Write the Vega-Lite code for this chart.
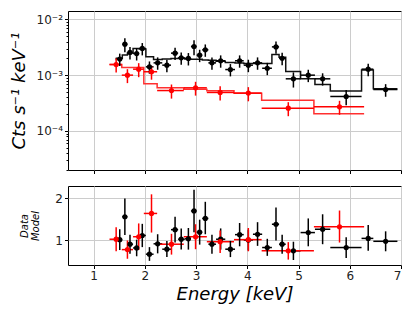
{
  "$schema": "https://vega.github.io/schema/vega-lite/v6.json",
  "padding": {"left": 9, "top": 10, "right": 5, "bottom": 5},
  "background": "white",
  "datasets": {
    "pts": [
      {"g": "b", "e": 1.51, "e0": 1.43, "e1": 1.56, "y": 0.00194, "ylo": 0.00146, "yhi": 0.00243, "r": 1.01, "rlo": 0.76, "rhi": 1.26},
      {"g": "b", "e": 1.61, "e0": 1.56, "e1": 1.66, "y": 0.00359, "ylo": 0.00258, "yhi": 0.0046, "r": 1.56, "rlo": 1.12, "rhi": 2.0},
      {"g": "b", "e": 1.71, "e0": 1.66, "e1": 1.77, "y": 0.00255, "ylo": 0.00191, "yhi": 0.00319, "r": 0.9, "rlo": 0.67, "rhi": 1.13},
      {"g": "b", "e": 1.84, "e0": 1.77, "e1": 1.89, "y": 0.00244, "ylo": 0.00183, "yhi": 0.00305, "r": 0.81, "rlo": 0.61, "rhi": 1.01},
      {"g": "b", "e": 1.95, "e0": 1.89, "e1": 2.02, "y": 0.00301, "ylo": 0.00226, "yhi": 0.00376, "r": 1.11, "rlo": 0.83, "rhi": 1.39},
      {"g": "b", "e": 2.09, "e0": 2.02, "e1": 2.17, "y": 0.00141, "ylo": 0.00106, "yhi": 0.00176, "r": 0.66, "rlo": 0.5, "rhi": 0.83},
      {"g": "b", "e": 2.25, "e0": 2.17, "e1": 2.34, "y": 0.00166, "ylo": 0.00125, "yhi": 0.00208, "r": 0.91, "rlo": 0.68, "rhi": 1.14},
      {"g": "b", "e": 2.43, "e0": 2.34, "e1": 2.51, "y": 0.00151, "ylo": 0.00113, "yhi": 0.00189, "r": 0.78, "rlo": 0.59, "rhi": 0.98},
      {"g": "b", "e": 2.59, "e0": 2.51, "e1": 2.65, "y": 0.00248, "ylo": 0.00186, "yhi": 0.0031, "r": 1.25, "rlo": 0.94, "rhi": 1.56},
      {"g": "b", "e": 2.71, "e0": 2.65, "e1": 2.78, "y": 0.00204, "ylo": 0.00153, "yhi": 0.00255, "r": 1.02, "rlo": 0.77, "rhi": 1.28},
      {"g": "b", "e": 2.85, "e0": 2.78, "e1": 2.9, "y": 0.00199, "ylo": 0.00149, "yhi": 0.00249, "r": 1.03, "rlo": 0.77, "rhi": 1.29},
      {"g": "b", "e": 2.96, "e0": 2.9, "e1": 3.01, "y": 0.00326, "ylo": 0.00228, "yhi": 0.00424, "r": 1.7, "rlo": 1.19, "rhi": 2.21},
      {"g": "b", "e": 3.07, "e0": 3.01, "e1": 3.12, "y": 0.00228, "ylo": 0.00171, "yhi": 0.00285, "r": 1.19, "rlo": 0.89, "rhi": 1.49},
      {"g": "b", "e": 3.18, "e0": 3.12, "e1": 3.24, "y": 0.00284, "ylo": 0.00213, "yhi": 0.00355, "r": 1.52, "rlo": 1.14, "rhi": 1.92},
      {"g": "b", "e": 3.31, "e0": 3.24, "e1": 3.39, "y": 0.00166, "ylo": 0.00125, "yhi": 0.00208, "r": 0.9, "rlo": 0.67, "rhi": 1.13},
      {"g": "b", "e": 3.48, "e0": 3.39, "e1": 3.57, "y": 0.00181, "ylo": 0.00136, "yhi": 0.00226, "r": 1.02, "rlo": 0.77, "rhi": 1.28},
      {"g": "b", "e": 3.67, "e0": 3.57, "e1": 3.76, "y": 0.00126, "ylo": 0.00095, "yhi": 0.00158, "r": 0.78, "rlo": 0.59, "rhi": 0.98},
      {"g": "b", "e": 3.85, "e0": 3.76, "e1": 3.93, "y": 0.00181, "ylo": 0.00136, "yhi": 0.00226, "r": 1.13, "rlo": 0.85, "rhi": 1.41},
      {"g": "b", "e": 4.02, "e0": 3.93, "e1": 4.11, "y": 0.00151, "ylo": 0.00113, "yhi": 0.00189, "r": 1.0, "rlo": 0.75, "rhi": 1.25},
      {"g": "b", "e": 4.2, "e0": 4.11, "e1": 4.29, "y": 0.00166, "ylo": 0.00125, "yhi": 0.00208, "r": 1.14, "rlo": 0.86, "rhi": 1.43},
      {"g": "b", "e": 4.39, "e0": 4.29, "e1": 4.48, "y": 0.00133, "ylo": 0.001, "yhi": 0.00166, "r": 0.82, "rlo": 0.62, "rhi": 1.03},
      {"g": "b", "e": 4.56, "e0": 4.48, "e1": 4.62, "y": 0.00321, "ylo": 0.00241, "yhi": 0.00401, "r": 1.38, "rlo": 0.99, "rhi": 1.78},
      {"g": "b", "e": 4.68, "e0": 4.62, "e1": 4.75, "y": 0.00201, "ylo": 0.00151, "yhi": 0.00251, "r": 0.9, "rlo": 0.67, "rhi": 1.13},
      {"g": "b", "e": 4.9, "e0": 4.75, "e1": 5.04, "y": 0.00086, "ylo": 0.0006, "yhi": 0.00112, "r": 0.74, "rlo": 0.52, "rhi": 0.96},
      {"g": "b", "e": 5.19, "e0": 5.04, "e1": 5.32, "y": 0.001, "ylo": 0.00075, "yhi": 0.00125, "r": 1.18, "rlo": 0.85, "rhi": 1.52},
      {"g": "b", "e": 5.47, "e0": 5.32, "e1": 5.62, "y": 0.00086, "ylo": 0.00065, "yhi": 0.00108, "r": 1.26, "rlo": 0.9, "rhi": 1.62},
      {"g": "b", "e": 5.93, "e0": 5.62, "e1": 6.23, "y": 0.000415, "ylo": 0.00029, "yhi": 0.00054, "r": 0.82, "rlo": 0.57, "rhi": 1.07},
      {"g": "b", "e": 6.36, "e0": 6.23, "e1": 6.46, "y": 0.00128, "ylo": 0.00096, "yhi": 0.0016, "r": 1.04, "rlo": 0.74, "rhi": 1.36},
      {"g": "b", "e": 6.7, "e0": 6.46, "e1": 6.93, "y": 0.000553, "ylo": 0.00041, "yhi": 0.00069, "r": 0.97, "rlo": 0.73, "rhi": 1.21},
      {"g": "r", "e": 1.44, "e0": 1.31, "e1": 1.55, "y": 0.00155, "ylo": 0.00112, "yhi": 0.00198, "r": 1.02, "rlo": 0.73, "rhi": 1.31},
      {"g": "r", "e": 1.66, "e0": 1.55, "e1": 1.77, "y": 0.001, "ylo": 0.00072, "yhi": 0.00128, "r": 0.77, "rlo": 0.55, "rhi": 0.99},
      {"g": "r", "e": 1.88, "e0": 1.77, "e1": 1.98, "y": 0.00128, "ylo": 0.00092, "yhi": 0.00164, "r": 1.08, "rlo": 0.76, "rhi": 1.4},
      {"g": "r", "e": 2.13, "e0": 1.98, "e1": 2.24, "y": 0.00115, "ylo": 0.00083, "yhi": 0.00147, "r": 1.64, "rlo": 1.18, "rhi": 2.1},
      {"g": "r", "e": 2.52, "e0": 2.24, "e1": 2.76, "y": 0.00053, "ylo": 0.00038, "yhi": 0.00068, "r": 0.9, "rlo": 0.65, "rhi": 1.15},
      {"g": "r", "e": 2.99, "e0": 2.76, "e1": 3.21, "y": 0.000593, "ylo": 0.00043, "yhi": 0.00076, "r": 1.08, "rlo": 0.78, "rhi": 1.38},
      {"g": "r", "e": 3.47, "e0": 3.21, "e1": 3.74, "y": 0.00049, "ylo": 0.00035, "yhi": 0.00063, "r": 0.96, "rlo": 0.69, "rhi": 1.23},
      {"g": "r", "e": 4.02, "e0": 3.74, "e1": 4.28, "y": 0.000477, "ylo": 0.00034, "yhi": 0.00061, "r": 1.01, "rlo": 0.73, "rhi": 1.29},
      {"g": "r", "e": 4.8, "e0": 4.28, "e1": 5.3, "y": 0.000256, "ylo": 0.000184, "yhi": 0.000328, "r": 0.74, "rlo": 0.53, "rhi": 0.95},
      {"g": "r", "e": 5.8, "e0": 5.3, "e1": 6.28, "y": 0.000271, "ylo": 0.000195, "yhi": 0.000347, "r": 1.32, "rlo": 0.94, "rhi": 1.71}
    ],
    "model": [
      {"g": "b", "x": 1.43, "m": 0.002},
      {"g": "b", "x": 1.56, "m": 0.0023},
      {"g": "b", "x": 1.66, "m": 0.0025},
      {"g": "b", "x": 1.77, "m": 0.003},
      {"g": "b", "x": 1.89, "m": 0.00295},
      {"g": "b", "x": 2.02, "m": 0.00214},
      {"g": "b", "x": 2.17, "m": 0.0019},
      {"g": "b", "x": 2.34, "m": 0.00194},
      {"g": "b", "x": 2.51, "m": 0.00198},
      {"g": "b", "x": 2.65, "m": 0.002},
      {"g": "b", "x": 2.78, "m": 0.00195},
      {"g": "b", "x": 2.9, "m": 0.00192},
      {"g": "b", "x": 3.01, "m": 0.00192},
      {"g": "b", "x": 3.12, "m": 0.00187},
      {"g": "b", "x": 3.24, "m": 0.00184},
      {"g": "b", "x": 3.39, "m": 0.00177},
      {"g": "b", "x": 3.57, "m": 0.00168},
      {"g": "b", "x": 3.76, "m": 0.00165},
      {"g": "b", "x": 3.93, "m": 0.00162},
      {"g": "b", "x": 4.11, "m": 0.00162},
      {"g": "b", "x": 4.29, "m": 0.00162},
      {"g": "b", "x": 4.48, "m": 0.00235},
      {"g": "b", "x": 4.62, "m": 0.0021},
      {"g": "b", "x": 4.75, "m": 0.00116},
      {"g": "b", "x": 5.04, "m": 0.00086},
      {"g": "b", "x": 5.32, "m": 0.00068},
      {"g": "b", "x": 5.62, "m": 0.00052},
      {"g": "b", "x": 6.23, "m": 0.00124},
      {"g": "b", "x": 6.46, "m": 0.00057},
      {"g": "b", "x": 6.93, "m": 0.00057},
      {"g": "r", "x": 1.31, "m": 0.00155},
      {"g": "r", "x": 1.55, "m": 0.00137},
      {"g": "r", "x": 1.98, "m": 0.0007},
      {"g": "r", "x": 2.24, "m": 0.000593},
      {"g": "r", "x": 2.76, "m": 0.00056},
      {"g": "r", "x": 3.21, "m": 0.000524},
      {"g": "r", "x": 3.74, "m": 0.000476},
      {"g": "r", "x": 4.28, "m": 0.000357},
      {"g": "r", "x": 5.3, "m": 0.000203},
      {"g": "r", "x": 6.28, "m": 0.000203}
    ]
  },
  "config": {
    "view": {"stroke": "black", "strokeWidth": 1},
    "font": "DejaVu Sans",
    "axis": {
      "domain": false,
      "tickColor": "black",
      "tickWidth": 1,
      "tickSize": 3.5,
      "labelFont": "DejaVu Sans",
      "labelFontSize": 12,
      "labelColor": "#222222",
      "labelPadding": 2,
      "gridColor": "#cccccc",
      "gridWidth": 1,
      "titleFont": "DejaVu Sans",
      "titleFontWeight": "normal",
      "titleFontStyle": "italic",
      "titleColor": "black"
    }
  },
  "spacing": 10,
  "vconcat": [
    {
      "width": 333,
      "height": 159,
      "resolve": {"scale": {"color": "independent"}},
      "layer": [
        {
          "data": {"name": "model"},
          "mark": {"type": "line", "interpolate": "step-after", "strokeWidth": 1.5},
          "encoding": {
            "x": {"field": "x", "type": "quantitative", "scale": {"domain": [0.5, 7], "nice": false, "zero": false},
              "axis": {"values": [1, 2, 3, 4, 5, 6, 7], "labels": false, "title": null, "grid": true}},
            "y": {"field": "m", "type": "quantitative",
              "scale": {"type": "log", "domain": [0.00002, 0.0141], "nice": false, "zero": false},
              "axis": {
                "values": [0.00002, 0.00003, 0.00004, 0.00005, 0.00006, 0.00007, 0.00008, 0.00009, 0.0001, 0.0002, 0.0003, 0.0004, 0.0005, 0.0006, 0.0007, 0.0008, 0.0009, 0.001, 0.002, 0.003, 0.004, 0.005, 0.006, 0.007, 0.008, 0.009, 0.01],
                "labelExpr": "abs(log(datum.value)/LN10 - round(log(datum.value)/LN10)) < 0.01 ? ('10' + (round(log(datum.value)/LN10) == -2 ? '⁻²' : round(log(datum.value)/LN10) == -3 ? '⁻³' : '⁻⁴')) : ''",
                "tickSize": {"condition": {"test": "abs(log(datum.value)/LN10 - round(log(datum.value)/LN10)) < 0.01", "value": 3.5}, "value": 2},
                "gridOpacity": {"condition": {"test": "abs(log(datum.value)/LN10 - round(log(datum.value)/LN10)) < 0.01", "value": 1}, "value": 0},
                "title": "Cts s⁻¹ keV⁻¹",
                "titleFontSize": 18,
                "titlePadding": 8
              }},
            "color": {"field": "g", "type": "nominal", "scale": {"domain": ["b", "r"], "range": ["#111111", "#ff3030"]}, "legend": null},
            "detail": {"field": "g"}
          }
        },
        {
          "data": {"name": "pts"},
          "mark": {"type": "rule", "strokeWidth": 1.5},
          "encoding": {
            "x": {"field": "e0", "type": "quantitative"},
            "x2": {"field": "e1"},
            "y": {"field": "y", "type": "quantitative"},
            "color": {"field": "g", "type": "nominal", "scale": {"domain": ["b", "r"], "range": ["#000000", "#ff0000"]}, "legend": null}
          }
        },
        {
          "data": {"name": "pts"},
          "mark": {"type": "rule", "strokeWidth": 1.5},
          "encoding": {
            "x": {"field": "e", "type": "quantitative"},
            "y": {"field": "ylo", "type": "quantitative"},
            "y2": {"field": "yhi"},
            "color": {"field": "g", "type": "nominal", "scale": {"domain": ["b", "r"], "range": ["#000000", "#ff0000"]}, "legend": null}
          }
        },
        {
          "data": {"name": "pts"},
          "mark": {"type": "circle", "size": 27, "opacity": 1},
          "encoding": {
            "x": {"field": "e", "type": "quantitative"},
            "y": {"field": "y", "type": "quantitative"},
            "color": {"field": "g", "type": "nominal", "scale": {"domain": ["b", "r"], "range": ["#000000", "#ff0000"]}, "legend": null}
          }
        }
      ]
    },
    {
      "width": 333,
      "height": 79,
      "layer": [
        {
          "mark": {"type": "rule", "color": "black", "strokeWidth": 1.2},
          "encoding": {"y": {"datum": 1, "type": "quantitative"}}
        },
        {
          "data": {"name": "pts"},
          "mark": {"type": "rule", "strokeWidth": 1.5},
          "encoding": {
            "x": {"field": "e0", "type": "quantitative", "scale": {"domain": [0.5, 7], "nice": false, "zero": false},
              "axis": {"values": [1, 2, 3, 4, 5, 6, 7], "title": "Energy [keV]", "titleFontSize": 18, "titlePadding": 4, "grid": true}},
            "x2": {"field": "e1"},
            "y": {"field": "r", "type": "quantitative", "scale": {"domain": [0.4, 2.3], "nice": false, "zero": false},
              "axis": {"values": [1, 2], "title": ["Data", "Model"], "titleFontSize": 10, "titleLineHeight": 11, "titlePadding": 14, "grid": true}},
            "color": {"field": "g", "type": "nominal", "scale": {"domain": ["b", "r"], "range": ["#000000", "#ff0000"]}, "legend": null}
          }
        },
        {
          "data": {"name": "pts"},
          "mark": {"type": "rule", "strokeWidth": 1.5},
          "encoding": {
            "x": {"field": "e", "type": "quantitative"},
            "y": {"field": "rlo", "type": "quantitative"},
            "y2": {"field": "rhi"},
            "color": {"field": "g", "type": "nominal", "scale": {"domain": ["b", "r"], "range": ["#000000", "#ff0000"]}, "legend": null}
          }
        },
        {
          "data": {"name": "pts"},
          "mark": {"type": "circle", "size": 27, "opacity": 1},
          "encoding": {
            "x": {"field": "e", "type": "quantitative"},
            "y": {"field": "r", "type": "quantitative"},
            "color": {"field": "g", "type": "nominal", "scale": {"domain": ["b", "r"], "range": ["#000000", "#ff0000"]}, "legend": null}
          }
        }
      ]
    }
  ]
}
